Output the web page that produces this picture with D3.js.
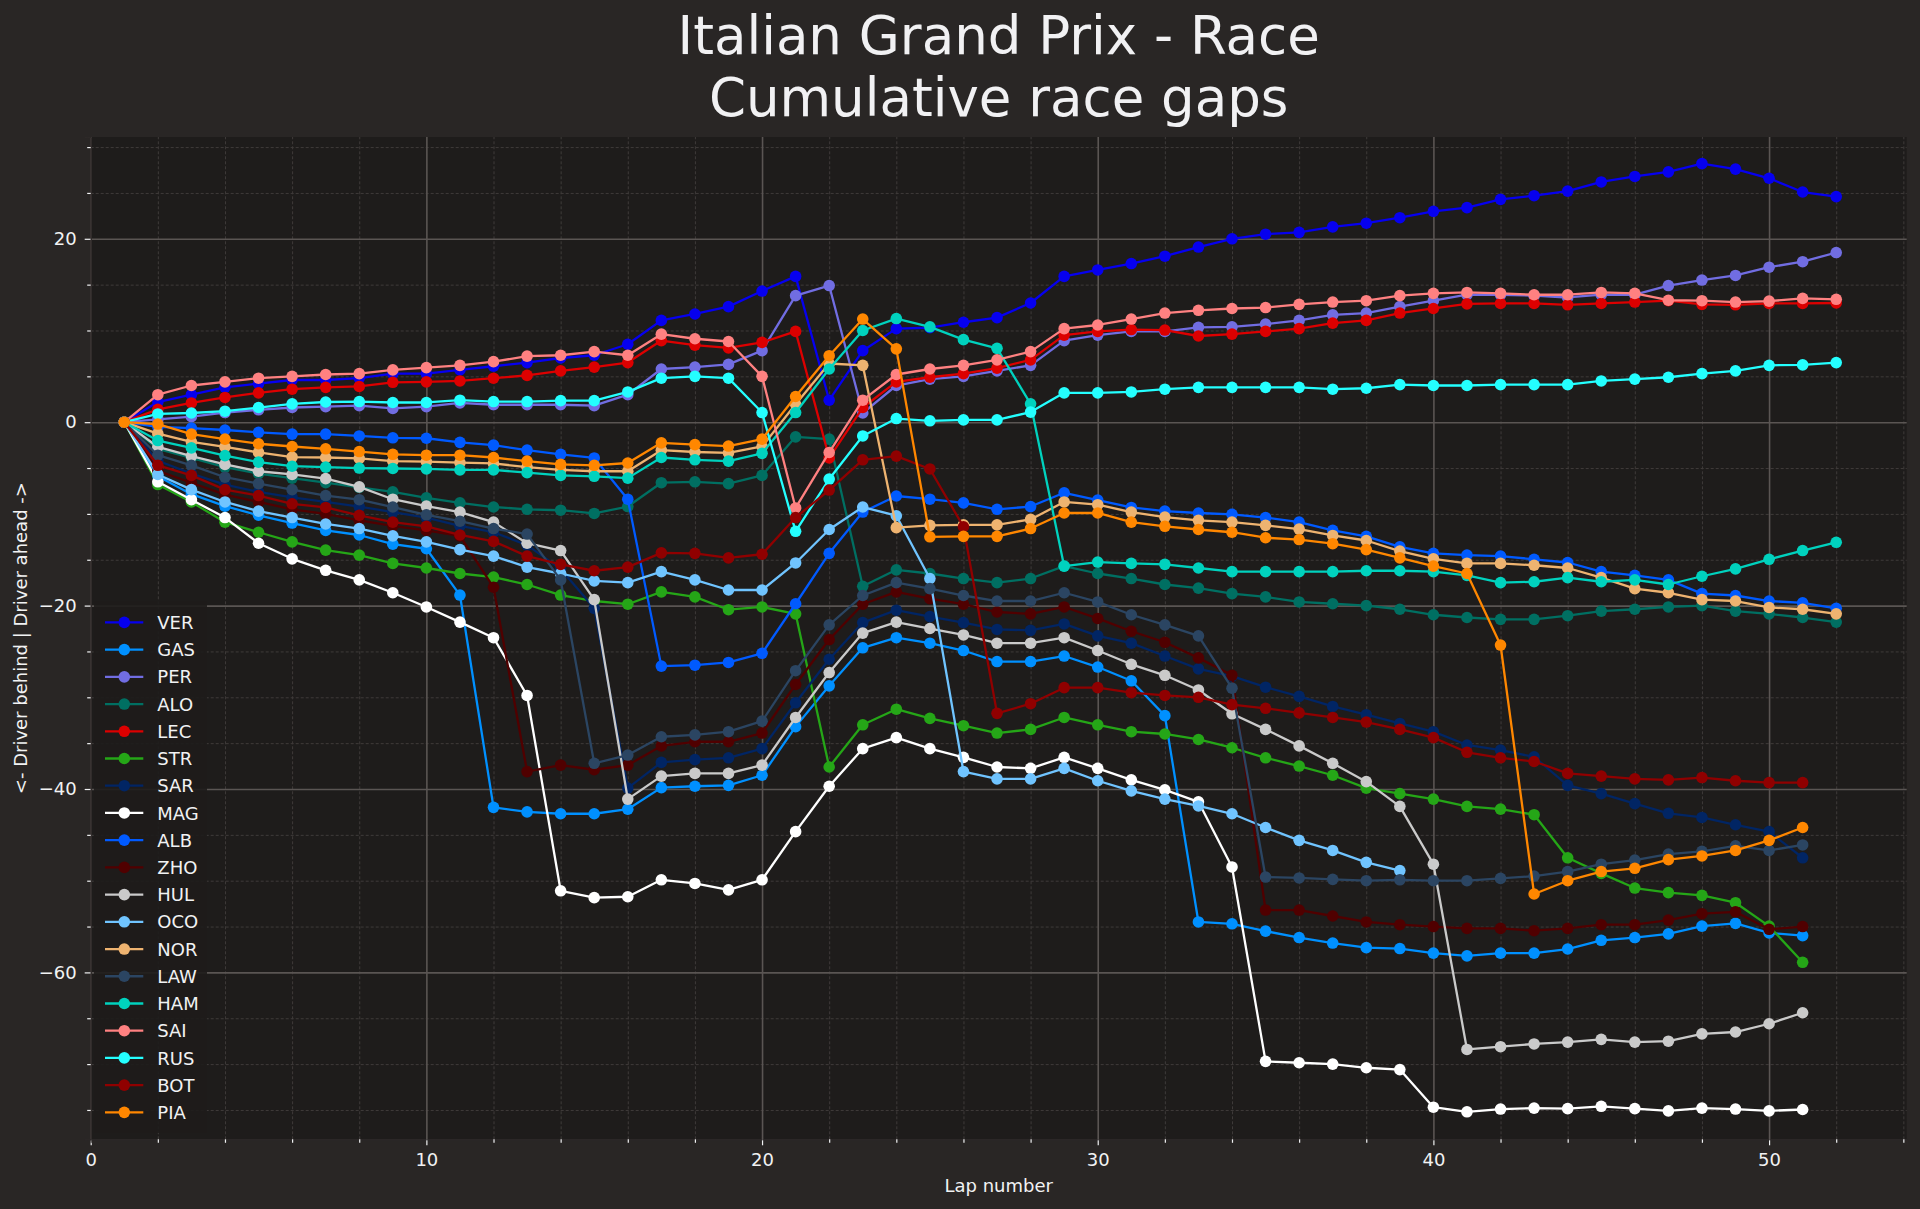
<!DOCTYPE html>
<html><head><meta charset="utf-8">
<script src="https://cdn.jsdelivr.net/npm/d3@7"></script>
<style>
html,body{margin:0;padding:0;background:#292625;}
svg{display:block;font-family:"DejaVu Sans",sans-serif;}
</style></head><body>
<svg id="chart" width="1920" height="1209"></svg>
<script>
// ---------------- data ----------------
const laps = [1,2,3,4,5,6,7,8,9,10,11,12,13,14,15,16,17,18,19,20,21,22,23,24,25,26,27,28,29,30,31,32,33,34,35,36,37,38,39,40,41,42,43,44,45,46,47,48,49,50,51,52];
const drivers = ["VER","GAS","PER","ALO","LEC","STR","SAR","MAG","ALB","ZHO","HUL","OCO","NOR","LAW","HAM","SAI","RUS","BOT","PIA"];
const driverColors = ["#0600ef","#0090ff","#716de2","#006f62","#dc0000","#25a617","#012564","#ffffff","#005aff","#500000","#cacaca","#70c4ff","#eeb370","#2b4562","#00d2be","#ff8181","#24ffff","#900000","#ff8700"];

const VER = [0,2.2,3.0,3.8,4.2,4.6,4.6,4.8,5.3,5.3, 5.7,6.1,6.5,7.0,7.3,8.5,11.1,11.8,12.6,14.3, 15.9,2.4,7.8,10.2,10.3,10.9,11.4,13.0,15.9,16.6, 17.3,18.1,19.1,20.0,20.5,20.7,21.3,21.7,22.3,23.0, 23.4,24.3,24.7,25.2,26.2,26.8,27.3,28.2,27.6,26.6, 25.1,24.6];
const GAS = [0,-5.9,-7.85,-9.15,-10.15,-11.0,-11.8,-12.3,-13.3,-13.8, -18.85,-42.0,-42.5,-42.7,-42.7,-42.2,-39.85,-39.7,-39.6,-38.5, -33.2,-28.75,-24.6,-23.5,-24.1,-24.9,-26.1,-26.1,-25.5,-26.7, -28.2,-32.0,-54.5,-54.7,-55.5,-56.2,-56.8,-57.3,-57.4,-57.9, -58.2,-57.9,-57.9,-57.45,-56.5,-56.2,-55.8,-54.95,-54.65,-55.7, -56.0];
const PER = [0,0.3,0.6,1.05,1.35,1.6,1.7,1.8,1.5,1.7, 2.1,1.9,1.9,1.9,1.8,3.0,5.8,6.0,6.3,7.8, 13.8,14.9,1.0,4.0,4.7,5.0,5.6,6.2,8.9,9.5, 9.9,9.9,10.35,10.4,10.7,11.1,11.7,11.9,12.6,13.25, 13.9,13.9,13.8,13.6,13.9,13.9,14.9,15.5,16.0,16.9, 17.5,18.5];
const ALO = [0,-2.9,-3.9,-4.9,-5.6,-6.1,-6.6,-7.1,-7.6,-8.25, -8.8,-9.25,-9.5,-9.6,-9.95,-9.2,-6.6,-6.5,-6.7,-5.8, -1.6,-1.85,-17.9,-16.1,-16.5,-17.05,-17.5,-17.05,-15.7,-16.5, -17.05,-17.7,-18.1,-18.7,-19.05,-19.6,-19.8,-20.0,-20.4,-21.0, -21.3,-21.5,-21.5,-21.1,-20.6,-20.4,-20.15,-20.0,-20.6,-20.9, -21.3,-21.8];
const LEC = [0,1.4,2.1,2.7,3.2,3.6,3.8,3.9,4.35,4.4, 4.5,4.8,5.1,5.6,6.0,6.5,8.9,8.4,8.1,8.7, 9.9,-3.9,1.6,4.4,4.9,5.3,5.9,6.8,9.5,9.9, 10.1,10.05,9.4,9.6,9.9,10.2,10.8,11.1,11.9,12.4, 12.9,12.95,12.95,12.8,12.95,13.1,13.25,12.85,12.8,12.95, 12.95,13.0];
const STR = [0,-6.8,-8.7,-10.9,-12.0,-13.05,-13.95,-14.5,-15.4,-15.9, -16.5,-16.9,-17.7,-18.85,-19.5,-19.85,-18.5,-19.05,-20.45,-20.15, -20.9,-37.6,-33.0,-31.3,-32.3,-33.1,-33.9,-33.5,-32.2,-33.0, -33.75,-34.0,-34.6,-35.5,-36.6,-37.5,-38.5,-39.9,-40.5,-41.1, -41.9,-42.2,-42.8,-47.5,-49.2,-50.8,-51.3,-51.6,-52.4,-54.95, -58.9];
const SAR = [0,-4.2,-5.6,-6.8,-7.6,-8.2,-8.7,-9.2,-9.8,-10.4, -11.3,-12.0,-13.4,-16.0,-20.3,-39.9,-37.1,-36.8,-36.6,-35.6, -30.6,-25.85,-21.85,-20.5,-21.2,-21.85,-22.6,-22.7,-22.0,-23.3, -24.1,-25.5,-26.9,-27.7,-28.9,-29.9,-31.0,-31.9,-32.85,-33.75, -35.2,-35.75,-36.5,-39.6,-40.5,-41.6,-42.65,-43.1,-43.9,-44.65, -47.5];
const MAG = [0,-6.5,-8.45,-10.4,-13.2,-14.9,-16.15,-17.2,-18.6,-20.15, -21.8,-23.5,-29.8,-51.1,-51.85,-51.75,-49.9,-50.3,-51.0,-49.9, -44.65,-39.7,-35.6,-34.4,-35.6,-36.55,-37.6,-37.75,-36.55,-37.75, -39.0,-40.1,-41.4,-48.5,-69.7,-69.85,-70.0,-70.4,-70.6,-74.7, -75.2,-74.9,-74.8,-74.85,-74.6,-74.85,-75.1,-74.8,-74.9,-75.1, -74.95];
const ALB = [0,-0.5,-0.65,-0.85,-1.1,-1.3,-1.3,-1.5,-1.7,-1.75, -2.2,-2.5,-3.05,-3.5,-3.9,-8.4,-26.6,-26.5,-26.2,-25.2, -19.8,-14.3,-9.8,-8.05,-8.4,-8.8,-9.5,-9.2,-7.7,-8.5, -9.3,-9.7,-9.9,-10.05,-10.4,-10.9,-11.8,-12.45,-13.6,-14.3, -14.5,-14.6,-14.95,-15.3,-16.3,-16.7,-17.2,-18.7,-18.9,-19.5, -19.7,-20.3];
const ZHO = [0,-5.3,-6.6,-7.9,-8.7,-9.5,-10.0,-10.7,-11.3,-11.8, -12.4,-18.0,-38.1,-37.4,-37.9,-37.4,-35.3,-34.85,-34.85,-33.9, -28.6,-23.7,-19.85,-18.5,-19.25,-19.85,-20.7,-20.9,-20.15,-21.4, -22.8,-24.0,-25.7,-27.6,-53.2,-53.2,-53.85,-54.5,-54.8,-55.0, -55.2,-55.2,-55.45,-55.2,-54.8,-54.8,-54.3,-53.6,-53.4,-55.3, -55.0];
const HUL = [0,-2.7,-3.7,-4.6,-5.35,-5.7,-6.15,-7.05,-8.4,-9.15, -9.8,-10.9,-13.2,-14.0,-19.35,-41.1,-38.6,-38.3,-38.3,-37.4, -32.2,-27.3,-23.0,-21.8,-22.5,-23.2,-24.1,-24.1,-23.5,-24.9, -26.4,-27.6,-29.2,-31.8,-33.5,-35.3,-37.2,-39.2,-41.9,-48.2, -68.4,-68.1,-67.8,-67.6,-67.3,-67.6,-67.5,-66.7,-66.5,-65.6, -64.4];
const OCO = [0,-5.7,-7.35,-8.7,-9.7,-10.4,-11.1,-11.6,-12.4,-13.05, -13.9,-14.6,-15.8,-16.5,-17.3,-17.5,-16.3,-17.2,-18.3,-18.3, -15.35,-11.7,-9.25,-10.2,-17.05,-38.1,-38.9,-38.9,-37.75,-39.1, -40.2,-41.1,-41.85,-42.7,-44.2,-45.6,-46.7,-48.0,-48.9];
const NOR = [0,-1.25,-2.15,-2.7,-3.3,-3.8,-3.85,-3.95,-4.25,-4.3, -4.4,-4.5,-4.9,-5.2,-5.35,-5.35,-3.05,-3.25,-3.35,-2.65, 1.95,6.4,6.2,-11.5,-11.25,-11.2,-11.2,-10.6,-8.7,-9.0, -9.8,-10.35,-10.7,-10.9,-11.25,-11.65,-12.35,-12.9,-14.05,-14.9, -15.4,-15.4,-15.6,-15.9,-16.95,-18.15,-18.6,-19.35,-19.5,-20.2, -20.4,-20.9];
const LAW = [0,-3.6,-4.7,-6.0,-6.7,-7.35,-8.0,-8.45,-9.25,-10.1, -10.8,-11.6,-12.2,-17.2,-37.2,-36.3,-34.3,-34.1,-33.75,-32.6, -27.1,-22.1,-18.9,-17.5,-18.15,-18.9,-19.5,-19.5,-18.6,-19.6, -21.0,-22.1,-23.3,-29.0,-49.6,-49.7,-49.85,-50.0,-49.9,-50.0, -50.0,-49.75,-49.5,-49.0,-48.2,-47.75,-47.1,-46.8,-46.2,-46.7, -46.1];
const HAM = [0,-2.0,-2.8,-3.65,-4.35,-4.8,-4.9,-5.0,-5.05,-5.1, -5.2,-5.2,-5.5,-5.8,-5.9,-6.1,-3.85,-4.1,-4.25,-3.4, 1.05,5.8,10.0,11.3,10.4,9.0,8.05,2.0,-15.7,-15.25, -15.4,-15.5,-15.9,-16.3,-16.3,-16.3,-16.3,-16.2,-16.2,-16.3, -16.7,-17.5,-17.4,-16.95,-17.4,-17.2,-17.7,-16.8,-16.0,-14.95, -14.0,-13.1];
const SAI = [0,3.0,4.0,4.4,4.8,5.0,5.2,5.3,5.7,5.95, 6.2,6.6,7.2,7.3,7.7,7.3,9.6,9.1,8.8,5.0, -9.35,-3.3,2.4,5.2,5.8,6.2,6.8,7.7,10.2,10.6, 11.25,11.9,12.2,12.4,12.5,12.85,13.1,13.25,13.8,14.05, 14.15,14.05,13.9,13.9,14.15,14.05,13.3,13.25,13.1,13.2, 13.5,13.4];
const RUS = [0,0.9,1.0,1.2,1.6,2.0,2.2,2.25,2.15,2.15, 2.4,2.25,2.25,2.35,2.35,3.3,4.8,5.0,4.8,1.05, -11.9,-6.2,-1.5,0.4,0.15,0.25,0.25,1.1,3.2,3.2, 3.3,3.6,3.8,3.8,3.8,3.8,3.6,3.7,4.1,4.0, 4.0,4.1,4.1,4.1,4.5,4.7,4.9,5.3,5.6,6.2, 6.25,6.5];
const BOT = [0,-4.7,-5.8,-7.35,-8.0,-8.9,-9.3,-10.15,-10.9,-11.35, -12.3,-13.0,-14.6,-15.5,-16.2,-15.8,-14.25,-14.3,-14.8,-14.4, -10.4,-7.4,-4.1,-3.7,-5.1,-11.4,-31.75,-30.7,-28.95,-28.95, -29.5,-29.8,-30.0,-30.8,-31.2,-31.7,-32.2,-32.7,-33.5,-34.4, -36.0,-36.6,-37.0,-38.3,-38.6,-38.9,-39.0,-38.75,-39.1,-39.3, -39.3];
const PIA = [0,-0.2,-1.3,-1.85,-2.35,-2.65,-2.9,-3.2,-3.5,-3.6, -3.6,-3.85,-4.25,-4.6,-4.7,-4.45,-2.25,-2.45,-2.6,-1.85, 2.8,7.25,11.25,8.0,-12.5,-12.45,-12.45,-11.6,-9.9,-9.9, -10.9,-11.35,-11.7,-12.0,-12.6,-12.8,-13.25,-13.9,-14.8,-15.7, -16.5,-24.3,-51.45,-50.0,-49.0,-48.65,-47.7,-47.3,-46.7,-45.6, -44.2];

const xMajorTicks = [0,10,20,30,40,50];
const yMajorTicks = [-60,-40,-20,0,20];
const titleLines = ["Italian Grand Prix - Race","Cumulative race gaps"];
const xLabel = "Lap number";
const yLabel = "<- Driver behind | Driver ahead ->";

const series = {VER,GAS,PER,ALO,LEC,STR,SAR,MAG,ALB,ZHO,HUL,OCO,NOR,LAW,HAM,SAI,RUS,BOT,PIA};

// ---------------- layout ----------------
const W = 1920, H = 1209;
const L = 90.7, R = 1906.7, T = 137, B = 1139.3;
const textColor = "#f1f2f3";

const svg = d3.select("#chart");
svg.append("rect").attr("width", W).attr("height", H).attr("fill", "#292625");
svg.append("rect").attr("x", L).attr("y", T).attr("width", R - L).attr("height", B - T).attr("fill", "#1e1c1b");

const x = d3.scaleLinear().domain([0, 54.1]).range([L, R]);
const y = d3.scaleLinear().domain([-78.2, 31.1]).range([B, T]);

const xMinor = d3.range(0, 54.1, 2).filter(v => !xMajorTicks.includes(v));
const yMinor = d3.range(-75, 31, 5).filter(v => !yMajorTicks.includes(v));

// grid
const grid = svg.append("g");
grid.append("g").attr("transform", `translate(0,${B})`)
  .call(d3.axisBottom(x).tickValues(xMinor).tickSize(-(B - T)).tickFormat(""))
  .call(g => { g.select(".domain").remove(); g.selectAll("line").attr("stroke", "#3f3b3a").attr("stroke-width", 1).attr("stroke-dasharray", "3,2"); });
grid.append("g").attr("transform", `translate(${L},0)`)
  .call(d3.axisLeft(y).tickValues(yMinor).tickSize(-(R - L)).tickFormat(""))
  .call(g => { g.select(".domain").remove(); g.selectAll("line").attr("stroke", "#3f3b3a").attr("stroke-width", 1).attr("stroke-dasharray", "3,2"); });
grid.append("g").attr("transform", `translate(0,${B})`)
  .call(d3.axisBottom(x).tickValues(xMajorTicks).tickSize(-(B - T)).tickFormat(""))
  .call(g => { g.select(".domain").remove(); g.selectAll("line").attr("stroke", "#5a5553").attr("stroke-width", 1.6); });
grid.append("g").attr("transform", `translate(${L},0)`)
  .call(d3.axisLeft(y).tickValues(yMajorTicks).tickSize(-(R - L)).tickFormat(""))
  .call(g => { g.select(".domain").remove(); g.selectAll("line").attr("stroke", "#5a5553").attr("stroke-width", 1.6); });

// series
const line = d3.line().x((d, i) => x(laps[i])).y(d => y(d));
const plot = svg.append("g");
drivers.forEach((drv, k) => {
  const vals = series[drv];
  const c = driverColors[k];
  const g = plot.append("g");
  g.append("path").attr("d", line(vals)).attr("fill", "none").attr("stroke", c).attr("stroke-width", 2.3).attr("stroke-linejoin", "round");
  g.selectAll("circle").data(vals).join("circle")
    .attr("cx", (d, i) => x(laps[i])).attr("cy", d => y(d)).attr("r", 5.8).attr("fill", c);
});

// axes ticks
const fmt = d3.format("d");
const axX = svg.append("g").attr("transform", `translate(0,${B})`)
  .call(d3.axisBottom(x).tickValues(xMajorTicks).tickSize(6).tickPadding(8).tickFormat(fmt));
axX.append("g").call(d3.axisBottom(x).tickValues(xMinor).tickSize(3.5).tickFormat(""));
const axY = svg.append("g").attr("transform", `translate(${L},0)`)
  .call(d3.axisLeft(y).tickValues(yMajorTicks).tickSize(6).tickPadding(8).tickFormat(fmt));
axY.append("g").call(d3.axisLeft(y).tickValues(yMinor).tickSize(3.5).tickFormat(""));
[axX, axY].forEach(a => {
  a.selectAll(".domain").attr("stroke", "#2d2928");
  a.selectAll("line").attr("stroke", textColor).attr("stroke-width", 1.2);
  a.selectAll("text").attr("fill", textColor).attr("font-size", 18).attr("font-family", "DejaVu Sans");
});

// labels
svg.append("text").attr("x", (L + R) / 2).attr("y", 1192).attr("text-anchor", "middle")
  .attr("fill", textColor).attr("font-size", 18).text(xLabel);
svg.append("text").attr("transform", `translate(27,${(T + B) / 2}) rotate(-90)`).attr("text-anchor", "middle")
  .attr("fill", textColor).attr("font-size", 18).text(yLabel);

// title (two lines)
titleLines.forEach((t, i) => {
  svg.append("text").attr("x", (L + R) / 2).attr("y", 54 + i * 62).attr("text-anchor", "middle")
    .attr("fill", "#f1f1f3").attr("font-size", 53).text(t);
});

// legend
const lg = svg.append("g");
lg.append("rect").attr("x", 94).attr("y", 601).attr("width", 113).attr("height", 532).attr("fill", "#1e1c1b").attr("opacity", 0.9);
drivers.forEach((drv, k) => {
  const cy = 622.4 + k * 27.22;
  lg.append("line").attr("x1", 105).attr("x2", 143.3).attr("y1", cy).attr("y2", cy).attr("stroke", driverColors[k]).attr("stroke-width", 2.3);
  lg.append("circle").attr("cx", 124.3).attr("cy", cy).attr("r", 5.8).attr("fill", driverColors[k]);
  lg.append("text").attr("x", 157.3).attr("y", cy + 6.6).attr("fill", textColor).attr("font-size", 18).text(drv);
});
</script>
</body></html>
